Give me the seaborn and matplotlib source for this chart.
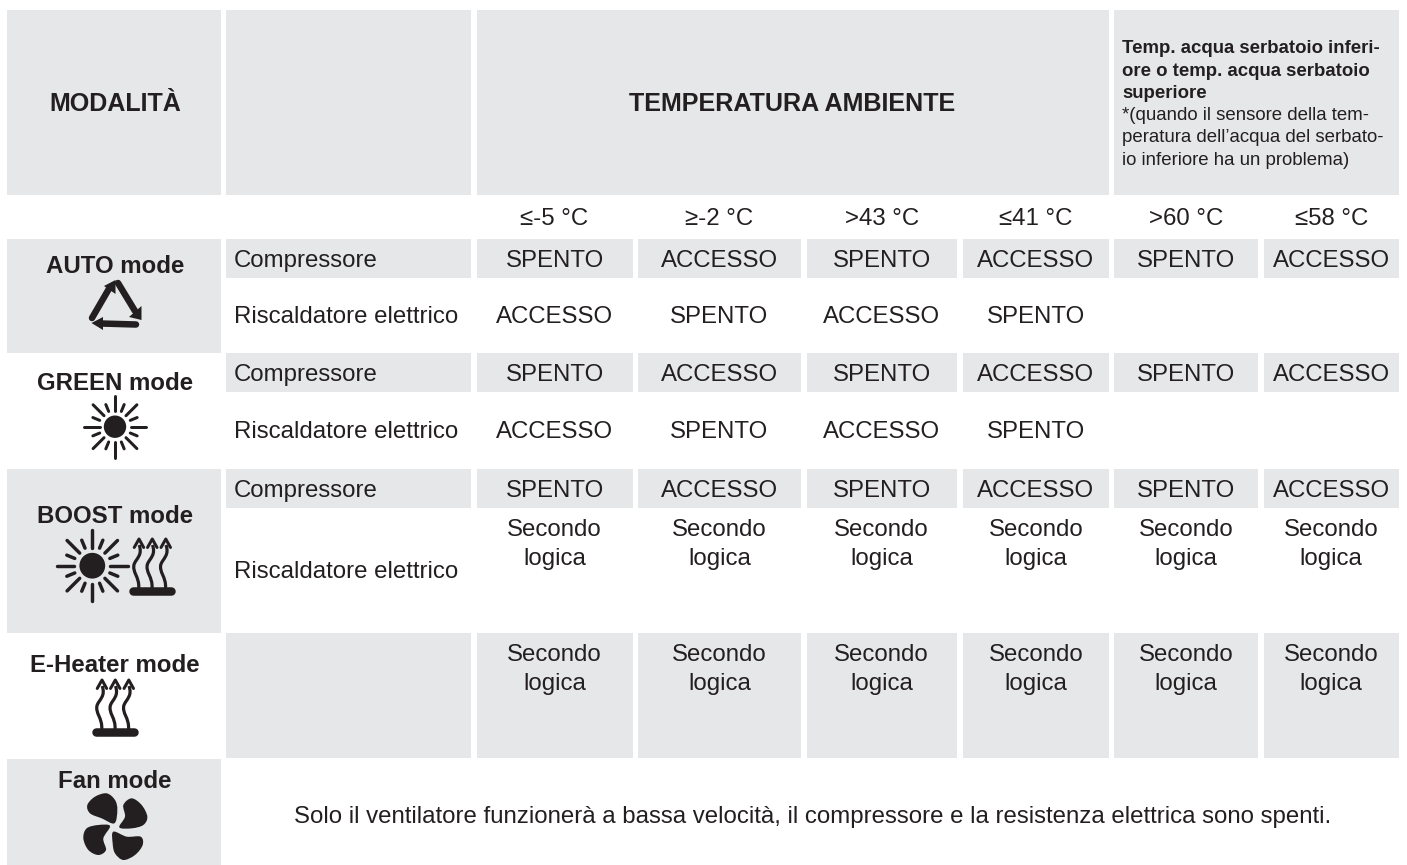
import numpy as np
import seaborn as sns
import matplotlib
matplotlib.use("Agg")
import matplotlib.pyplot as plt
from matplotlib.patches import Rectangle, PathPatch, Circle, Polygon
from matplotlib.path import Path

# ---- content ----
modes = ["AUTO mode", "GREEN mode", "BOOST mode", "E-Heater mode", "Fan mode"]
header_mode = "MODALITÀ"
header_temp = "TEMPERATURA AMBIENTE"
header_note_bold = ["Temp. acqua serbatoio inferi-", "ore o temp. acqua serbatoio", "superiore"]
header_note = ["*(quando il sensore della tem-", "peratura dell’acqua del serbato-", "io inferiore ha un problema)"]
thresholds = ["≤-5 °C", "≥-2 °C", ">43 °C", "≤41 °C", ">60 °C", "≤58 °C"]
row_comp = "Compressore"
row_heat = "Riscaldatore elettrico"
comp_states = ["SPENTO", "ACCESSO", "SPENTO", "ACCESSO", "SPENTO", "ACCESSO"]
heat_states = ["ACCESSO", "SPENTO", "ACCESSO", "SPENTO", "", ""]
logic = ["Secondo", "logica"]
fan_note = "Solo il ventilatore funzionerà a bassa velocità, il compressore e la resistenza elettrica sono spenti."

# ---- layout (pixels) ----
W, H = 1407, 865
GREY = "#e6e7e8"
INK = "#231f20"
col_edges = [(476.5, 632.6), (637.8, 801), (806.5, 957), (963, 1109), (1114, 1258), (1263.5, 1399)]
col_mid = [(a + b) / 2 for a, b in col_edges]
FS = 17.25
FS_HEAD = 18.1
FS_NOTE = 13.4

sns.set_theme(style="white", rc={"axes.facecolor": "white", "figure.facecolor": "white"})
plt.rcParams["font.family"] = ["Liberation Sans", "DejaVu Sans"]

fig = plt.figure(figsize=(W / 100, H / 100), dpi=100)
ax = fig.add_axes([0, 0, 1, 1])
ax.set_xlim(0, W)
ax.set_ylim(H, 0)
ax.set_axis_off()
sns.despine(ax=ax, left=True, bottom=True)


def box(x0, x1, y0, y1):
    ax.add_patch(Rectangle((x0, y0), x1 - x0, y1 - y0, fc=GREY, ec="none", zorder=1))


def txt(x, y, s, ha="center", bold=False, size=FS):
    ax.text(x, y, s, ha=ha, va="baseline", color=INK, fontsize=size,
            fontweight="bold" if bold else "normal", zorder=3)


# header boxes
box(6.7, 220.7, 9.7, 194.5)
box(226, 471, 9.7, 194.5)
box(476.5, 1109, 9.7, 194.5)
box(1114, 1399, 9.7, 194.5)
txt(115.5, 111, header_mode, bold=True, size=FS_HEAD)
txt(792, 111, header_temp, bold=True, size=FS_HEAD)
for yb, s in zip([53, 75.5, 98], header_note_bold):
    txt(1122, yb, s, ha="left", bold=True, size=FS_NOTE)
for yb, s in zip([120, 142.5, 165], header_note):
    txt(1122, yb, s, ha="left", size=FS_NOTE)

# threshold row
for x, s in zip(col_mid, thresholds):
    txt(x, 225, s)

# mode boxes (left column)
box(6.7, 220.7, 239, 352.7)
box(6.7, 220.7, 468.7, 633)
box(6.7, 220.7, 758.7, H)
box(226, 471, 633, 757.7)

# compressor / heater blocks
for y0, y1, yb, yh in [(239, 277.7, 267, 323), (353.3, 391.7, 381, 438), (469, 507.7, 497, 578)]:
    box(226, 471, y0, y1)
    txt(234, yb, row_comp, ha="left")
    txt(234, yh, row_heat, ha="left")
    for (a, b), x, s in zip(col_edges, col_mid, comp_states):
        box(a, b, y0, y1)
        txt(x, yb, s)

for yh in (323, 438):
    for x, s in zip(col_mid, heat_states):
        if s:
            txt(x, yh, s)

for x in col_mid:
    txt(x, 536, logic[0])
    txt(x, 565, logic[1])

for (a, b), x in zip(col_edges, col_mid):
    box(a, b, 633, 757.7)
    txt(x, 661, logic[0])
    txt(x, 690, logic[1])

# mode labels
for yb, s in zip([273, 390, 523, 672, 788], modes):
    txt(115, yb, s, bold=True)

txt(812.5, 823, fan_note)

# ---- icons ----
PT = 72 / 100


def line(xs, ys, w, cap="round"):
    ax.plot(xs, ys, color=INK, lw=w * PT, solid_capstyle=cap, solid_joinstyle="round", zorder=4)


def poly(pts):
    ax.add_patch(Polygon(pts, closed=True, fc=INK, ec="none", zorder=4))


# AUTO triangle
line([92, 110], [318, 287], 6.5)
poly([(115.5, 280), (104, 286), (115.5, 294)])
line([118, 135], [283, 311], 6.5)
poly([(141.5, 320), (141.5, 306), (129, 317)])
line([136, 101], [324.5, 323.5], 6.5)
poly([(91.5, 323), (103, 317), (103, 330)])


def sun(cx, cy, scale):
    ax.add_patch(Circle((cx, cy), 11.2 * scale, fc=INK, ec="none", zorder=4))
    for k in range(8):
        t = np.deg2rad(45 * k)
        line([cx + 15.5 * scale * np.cos(t), cx + 31 * scale * np.cos(t)],
             [cy + 15.5 * scale * np.sin(t), cy + 31 * scale * np.sin(t)], 3.0 * scale)
        t2 = t + np.deg2rad(22.5)
        line([cx + 16.5 * scale * np.cos(t2), cx + 24 * scale * np.cos(t2)],
             [cy + 16.5 * scale * np.sin(t2), cy + 24 * scale * np.sin(t2)], 3.0 * scale)


sun(115, 426.7, 1.0)
sun(92.3, 565.7, 1.15)


def heater(cx, ybar):
    line([cx - 19, cx + 19], [ybar, ybar], 8.5)
    for dx in (-13.3, 0, 13.5):
        x = cx + dx
        verts = [(x, ybar - 3), (x + 1, ybar - 14), (x - 7, ybar - 19), (x - 4.5, ybar - 27),
                 (x - 2, ybar - 33), (x + 4, ybar - 36), (x + 0.5, ybar - 46)]
        codes = [Path.MOVETO] + [Path.CURVE4] * 6
        ax.add_patch(PathPatch(Path(verts, codes), fc="none", ec=INK, lw=3.2 * PT, zorder=4))
        line([x - 4.5, x + 0.3, x + 5], [ybar - 43.5, ybar - 52, ybar - 43.5], 3.0)


heater(152, 591)
heater(115, 732)


def blob(pts):
    pts = np.array(pts, float) / 3 + np.array([70, 790])
    n = len(pts)
    verts = [pts[0]]
    codes = [Path.MOVETO]
    for i in range(n):
        p0, p1, p2, p3 = pts[i - 1], pts[i], pts[(i + 1) % n], pts[(i + 2) % n]
        verts += [p1 + (p2 - p0) / 6, p2 - (p3 - p1) / 6, p2]
        codes += [Path.CURVE4] * 3
    ax.add_patch(PathPatch(Path(verts, codes), fc=INK, ec="none", zorder=4))


blob([(133, 100), (95, 85), (60, 70), (52, 45), (75, 20), (110, 10), (135, 30), (142, 60)])
blob([(148, 112), (165, 80), (160, 45), (185, 25), (215, 45), (232, 80), (220, 105), (185, 115)])
blob([(120, 108), (85, 105), (50, 115), (40, 145), (55, 180), (85, 195), (108, 180), (100, 145)])
blob([(130, 125), (170, 140), (212, 140), (218, 165), (195, 195), (160, 210), (135, 190), (128, 160)])

fig.savefig("out.png", dpi=100, facecolor="white")
